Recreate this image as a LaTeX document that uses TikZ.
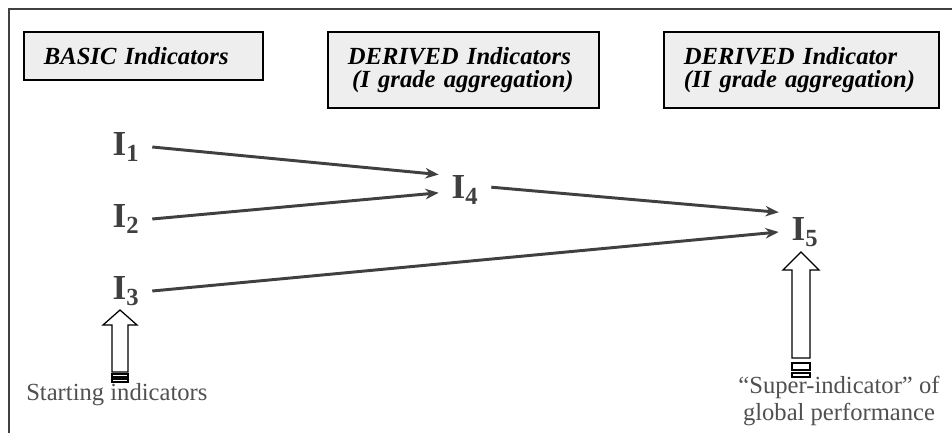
\documentclass[tikz,border=0pt]{standalone}
\usepackage{fontspec}
\setmainfont{Liberation Serif}
\usetikzlibrary{positioning}
\usetikzlibrary{arrows.meta}
\definecolor{boxgray}{HTML}{EEEEEE}
\definecolor{indgray}{HTML}{404040}
\definecolor{txtgray}{HTML}{505050}
\begin{document}
\begin{tikzpicture}[x=0.025cm, y=-0.025cm,
                    headbox/.style={draw, line width=1.5pt, fill=boxgray, align=left,
                        inner xsep=0.5cm, font=\fontsize{17.5}{16.5}\selectfont\bfseries\itshape},
                    ind/.style={text=indgray, inner sep=9pt, font=\fontsize{25}{25}\selectfont\bfseries},
                    link/.style={draw=indgray, line width=2.1pt, -{Stealth[length=9.5pt,width=7.5pt]}},
                    hollow/.style={draw, line width=0.9pt, fill=white},
                    note/.style={text=txtgray, font=\fontsize{17.5}{19.2}\selectfont}]
    \useasboundingbox (0,0) rectangle (952,433);
    \draw[indgray, line width=1pt] (952,9) -- (9,9) -- (9,433);

    % headings
    \node[headbox, text width=4.975cm, minimum height=1.2cm] (basic) at (143.5,56) {BASIC Indicators};
    \node[headbox, text width=5.775cm, minimum height=1.9cm] (first) at (463.5,70)
        {DERIVED Indicators\\\hspace{3pt}(I grade aggregation)};
    \node[headbox, text width=5.875cm, minimum height=1.9cm] (second) at (801.5,70)
        {DERIVED Indicator\\(II grade aggregation)};

    % indicators
    \node[ind] (i1) at (126,147) {I\textsubscript{1}};
    \node[ind] (i2) at (126,219) {I\textsubscript{2}};
    \node[ind] (i3) at (126,291) {I\textsubscript{3}};
    \node[ind] (i4) at (465,190) {I\textsubscript{4}};
    \node[ind] (i5) at (805,232) {I\textsubscript{5}};

    \draw[link] (i1.east) -- ([yshift=11pt]i4.west);
    \draw[link] (i2.east) -- ([yshift=-2pt]i4.west);
    \draw[link] ([yshift=2pt]i4.east) -- ([yshift=14pt]i5.west);
    \draw[link] (i3.east) -- (i5.west);

    % block arrows
    \coordinate (startA) at (120,310);
    \draw[hollow] (startA) -- ++(17,15) -- ++(-9,0) -- ++(0,47) -- ++(-16,0)
        -- ++(0,-47) -- ++(-9,0) -- cycle;
    \draw[hollow] (112,374) rectangle (128,377);
    \draw[hollow] (112,379) rectangle (128,382);

    \coordinate (superA) at (801,252);
    \draw[hollow] (superA) -- ++(18,18) -- ++(-9,0) -- ++(0,88) -- ++(-18,0)
        -- ++(0,-88) -- ++(-9,0) -- cycle;
    \draw[hollow] (792,363) rectangle (810,370);
    \draw[hollow] (792,373) rectangle (810,377);

    \node[note, anchor=base west, inner sep=0pt] (start) at (26,400) {Starting indicators};
    \node[note, anchor=base, align=center, inner sep=0pt] (super) at (839,420)
        {``Super-indicator'' of\\global performance};
\end{tikzpicture}
\end{document}
